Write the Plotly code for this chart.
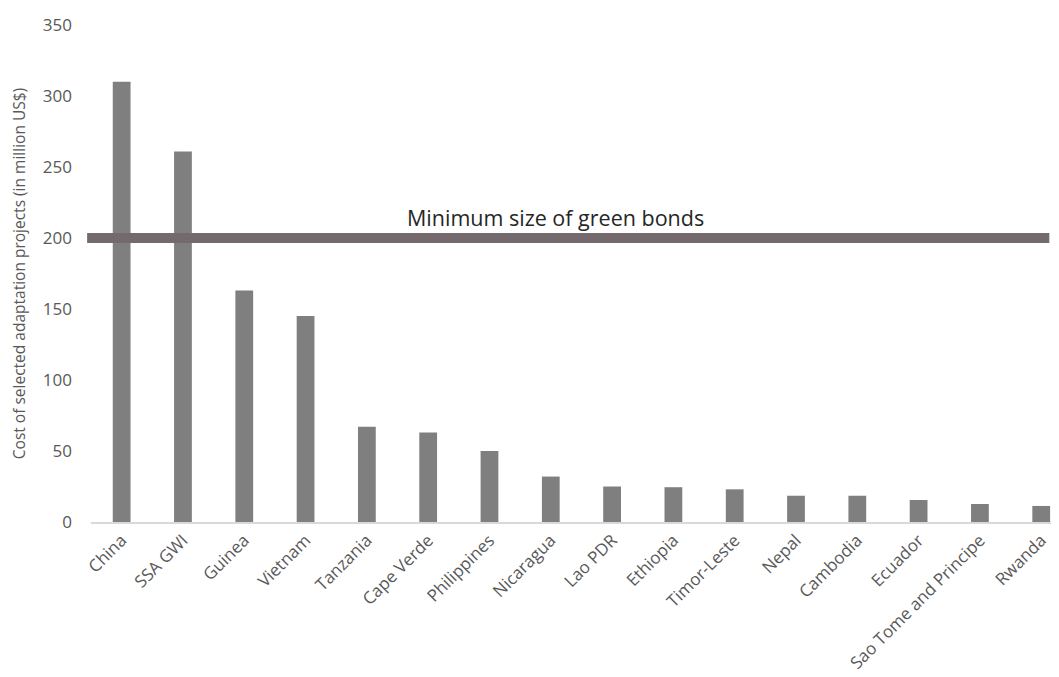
import plotly.graph_objects as go

countries = ["China", "SSA GWI", "Guinea", "Vietnam", "Tanzania", "Cape Verde",
             "Philippines", "Nicaragua", "Lao PDR", "Ethiopia", "Timor-Leste",
             "Nepal", "Cambodia", "Ecuador", "Sao Tome and Principe", "Rwanda"]
costs = [310, 261, 163, 145, 67, 63, 50, 32, 25, 24.5, 23, 18.5, 18.5, 15.5, 12.7, 11.3]
green_bond_min = 200
line_label = "Minimum size of green bonds"
y_title = "Cost of selected adaptation projects (in million US$)"
y_ticks = [0, 50, 100, 150, 200, 250, 300, 350]

FONT = "Open Sans"
GRAY = "#595959"

fig = go.Figure()
fig.add_trace(go.Bar(x=countries, y=costs, marker_color="#7f7f7f",
                     marker_line_width=0, showlegend=False))

fig.add_shape(type="line", xref="paper", yref="y", x0=-0.004, x1=0.99,
              y0=green_bond_min, y1=green_bond_min,
              line=dict(color="#74696c", width=10), layer="above")
fig.add_annotation(text=line_label, xref="paper", yref="y", x=0.48, y=green_bond_min,
                   yanchor="bottom", yshift=4, showarrow=False,
                   font=dict(family=FONT, size=21.5, color="#262626"))

fig.update_layout(
    width=1051, height=669,
    margin=dict(l=83, r=0, t=17, b=155),
    plot_bgcolor="white", paper_bgcolor="white",
    bargap=0.71,
    font=dict(family=FONT, color=GRAY),
)
fig.update_xaxes(range=[-0.5, 15.29], tickangle=-45, showgrid=False, automargin=False,
                 showline=True, linecolor="#d9d9d9", linewidth=1.5,
                 tickfont=dict(family=FONT, size=17, color=GRAY), ticks="")
fig.update_yaxes(range=[0, 350], tickvals=y_ticks, showgrid=False, zeroline=False,
                 automargin=False,
                 showline=False, ticks="", ticklabelstandoff=18,
                 tickfont=dict(family=FONT, size=17, color=GRAY),
                 title=dict(text=y_title, standoff=13,
                            font=dict(family=FONT, size=15.5, color=GRAY)))

fig.write_html("out.html")
